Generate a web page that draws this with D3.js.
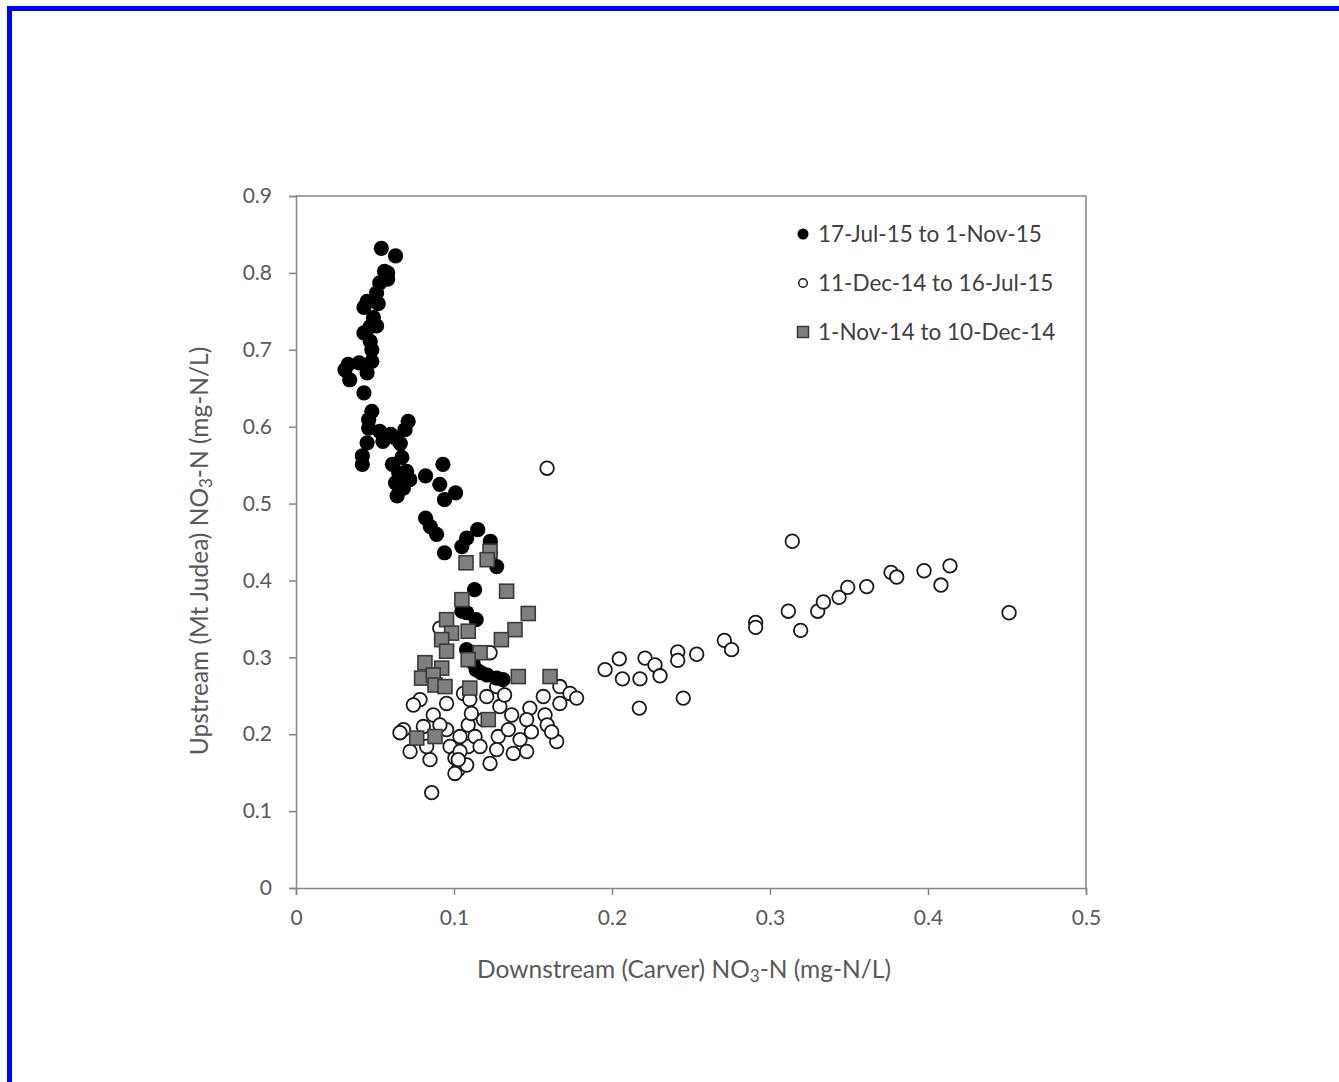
<!DOCTYPE html>
<html>
<head>
<meta charset="utf-8">
<script src="https://cdnjs.cloudflare.com/ajax/libs/d3/7.8.5/d3.min.js"></script>
<style>
  body { margin: 0; background: #fff; }
  text { font-family: Lato, "Noto Sans", sans-serif; }
</style>
</head>
<body>
<div id="chart"></div>
<script>
// 17-Jul-15 to 1-Nov-15 (filled black circles)
const lateSeries = [
  [0.054,0.832],[0.063,0.822],[0.056,0.802],[0.058,0.792],[0.053,0.787],[0.051,0.774],[0.045,0.763],
  [0.043,0.755],[0.049,0.742],[0.051,0.731],[0.043,0.722],[0.047,0.711],[0.033,0.681],[0.031,0.674],
  [0.034,0.661],[0.040,0.683],[0.048,0.685],[0.045,0.670],[0.043,0.644],[0.048,0.620],[0.046,0.609],
  [0.071,0.607],[0.069,0.596],[0.053,0.594],[0.063,0.585],[0.045,0.579],[0.055,0.581],[0.060,0.590],
  [0.066,0.578],[0.042,0.562],[0.042,0.551],[0.061,0.551],[0.065,0.540],[0.070,0.542],[0.063,0.527],
  [0.064,0.510],[0.072,0.531],[0.082,0.536],[0.093,0.551],[0.091,0.525],[0.101,0.514],[0.094,0.505],
  [0.082,0.481],[0.085,0.470],[0.089,0.460],[0.094,0.436],[0.105,0.444],[0.108,0.455],[0.115,0.466],
  [0.123,0.451],[0.123,0.436],[0.127,0.418],[0.113,0.388],[0.108,0.358],[0.114,0.349],[0.105,0.360],
  [0.108,0.310],[0.110,0.301],[0.114,0.284],[0.121,0.277],[0.127,0.273],[0.131,0.271],[0.058,0.800],
  [0.052,0.760],[0.047,0.730],[0.048,0.700],[0.046,0.598],[0.067,0.560],[0.068,0.520],[0.112,0.293],
  [0.117,0.280]
];

// 11-Dec-14 to 16-Jul-15 (open circles)
const midSeries = [
  [0.0859,0.124],[0.0785,0.245],[0.0953,0.240],[0.0869,0.225],[0.068,0.206],[0.0722,0.1775],[0.0806,0.210],
  [0.0848,0.167],[0.0827,0.184],[0.0953,0.206],[0.0975,0.184],[0.1006,0.169],[0.1027,0.154],[0.108,0.160],
  [0.109,0.184],[0.1038,0.1775],[0.109,0.212],[0.106,0.253],[0.110,0.245],[0.1133,0.197],[0.1165,0.184],
  [0.1207,0.249],[0.1186,0.219],[0.1228,0.162],[0.128,0.197],[0.127,0.180],[0.129,0.236],[0.127,0.262],
  [0.132,0.251],[0.1344,0.206],[0.1365,0.225],[0.1375,0.175],[0.1418,0.193],[0.148,0.234],[0.149,0.203],
  [0.146,0.1775],[0.1576,0.225],[0.1565,0.249],[0.159,0.212],[0.165,0.1905],[0.1618,0.203],[0.167,0.262],
  [0.167,0.240],[0.1734,0.253],[0.1776,0.247],[0.0743,0.238],[0.1038,0.197],[0.0911,0.212],[0.1027,0.167],
  [0.111,0.227],[0.146,0.219],[0.1006,0.149],[0.091,0.338],[0.1228,0.306],[0.0658,0.202],[0.1589,0.546],
  [0.1956,0.284],[0.2046,0.298],[0.2066,0.272],[0.2177,0.272],[0.2173,0.234],[0.2209,0.299],[0.2272,0.290],
  [0.2304,0.276],[0.2416,0.307],[0.2416,0.296],[0.2451,0.247],[0.2536,0.304],[0.2711,0.322],[0.2757,0.310],
  [0.2909,0.3455],[0.2909,0.339],[0.3141,0.451],[0.3116,0.360],[0.3194,0.335],[0.3302,0.360],[0.3338,0.372],
  [0.3437,0.378],[0.3492,0.391],[0.3612,0.392],[0.3766,0.4105],[0.3802,0.4044],[0.3975,0.4126],[0.4082,0.394],
  [0.4139,0.419],[0.4513,0.358]
];

// 1-Nov-14 to 10-Dec-14 (grey squares)
const earlySeries = [
  [0.1076,0.423],[0.1228,0.438],[0.121,0.427],[0.1333,0.386],[0.105,0.375],[0.0953,0.349],[0.147,0.357],
  [0.1386,0.336],[0.130,0.323],[0.0985,0.3315],[0.109,0.334],[0.0922,0.323],[0.0953,0.308],[0.1165,0.306],
  [0.109,0.297],[0.0816,0.293],[0.0922,0.286],[0.0795,0.273],[0.0869,0.277],[0.088,0.264],[0.0943,0.262],
  [0.110,0.260],[0.1407,0.275],[0.1608,0.275],[0.1217,0.219],[0.0764,0.195],[0.088,0.197]
];

const legendLabels = ["17-Jul-15 to 1-Nov-15", "11-Dec-14 to 16-Jul-15", "1-Nov-14 to 10-Dec-14"];
const xTicks = [0, 0.1, 0.2, 0.3, 0.4, 0.5];
const yTicks = [0, 0.1, 0.2, 0.3, 0.4, 0.5, 0.6, 0.7, 0.8, 0.9];

const W = 1339, H = 1082;
const margin = { top: 196, right: 253, bottom: 194, left: 296 },
      width = W - margin.left - margin.right,
      height = H - margin.top - margin.bottom;

const root = d3.select("#chart").append("svg")
  .attr("width", W)
  .attr("height", H);

// blue frame
root.append("rect")
  .attr("x", 9.5).attr("y", 8.5)
  .attr("width", W + 20).attr("height", H + 20)
  .attr("fill", "none")
  .attr("stroke", "#0000ff")
  .attr("stroke-width", 5);

const svg = root.append("g")
  .attr("transform", `translate(${margin.left},${margin.top})`);

const x = d3.scaleLinear().domain([0, 0.5]).range([0, width]);
const y = d3.scaleLinear().domain([0, 0.9]).range([height, 0]);

const axisColor = "#868686", labelColor = "#595959";

// plot frame (top & right)
svg.append("path")
  .attr("d", `M0,0H${width}V${height}`)
  .attr("fill", "none")
  .attr("stroke", axisColor)
  .attr("stroke-width", 1.5);

const xAxis = svg.append("g")
  .attr("transform", `translate(0,${height})`)
  .call(d3.axisBottom(x).tickValues(xTicks).tickSize(7).tickPadding(15)
    .tickFormat(d => d === 0 ? "0" : d3.format(".1f")(d)));
const yAxis = svg.append("g")
  .call(d3.axisLeft(y).tickValues(yTicks).tickSize(7).tickPadding(17)
    .tickFormat(d => d === 0 ? "0" : d3.format(".1f")(d)));

[xAxis, yAxis].forEach(a => {
  a.select(".domain").attr("stroke", axisColor).attr("stroke-width", 1.5);
  a.selectAll(".tick line").attr("stroke", axisColor).attr("stroke-width", 1.5);
  a.selectAll(".tick text").attr("fill", labelColor).style("font-size", "21px")
    .style("font-family", "Lato, 'Noto Sans', sans-serif");
});

// open circles
svg.append("g").selectAll("circle")
  .data(midSeries)
  .join("circle")
  .attr("cx", d => x(d[0]))
  .attr("cy", d => y(d[1]))
  .attr("r", 6.8)
  .attr("fill", "#fff")
  .attr("stroke", "#1a1a1a")
  .attr("stroke-width", 1.8);

// filled black circles
svg.append("g").selectAll("circle")
  .data(lateSeries)
  .join("circle")
  .attr("cx", d => x(d[0]))
  .attr("cy", d => y(d[1]))
  .attr("r", 7.6)
  .attr("fill", "#000");

// grey squares
const sq = 14;
svg.append("g").selectAll("rect")
  .data(earlySeries)
  .join("rect")
  .attr("x", d => x(d[0]) - sq / 2)
  .attr("y", d => y(d[1]) - sq / 2)
  .attr("width", sq)
  .attr("height", sq)
  .attr("fill", "#7f7f7f")
  .attr("stroke", "#3a3a3a")
  .attr("stroke-width", 1.6);

// legend
const legend = svg.append("g").attr("transform", `translate(${803 - margin.left},${234 - margin.top})`);
const rowGap = 49;
legend.append("circle").attr("cx", 0).attr("cy", 0).attr("r", 5.5).attr("fill", "#000");
legend.append("circle").attr("cx", 0).attr("cy", rowGap).attr("r", 4.3)
  .attr("fill", "#fff").attr("stroke", "#1a1a1a").attr("stroke-width", 1.5);
legend.append("rect").attr("x", -5.5).attr("y", 2 * rowGap - 5.5).attr("width", 11).attr("height", 11)
  .attr("fill", "#7f7f7f").attr("stroke", "#3a3a3a").attr("stroke-width", 1.5);
legend.selectAll("text.lg")
  .data(legendLabels)
  .join("text")
  .attr("class", "lg")
  .attr("x", 15)
  .attr("y", (d, i) => i * rowGap)
  .attr("dy", "0.35em")
  .attr("fill", "#404040")
  .style("font-size", "22.5px")
  .text(d => d);

// axis titles
const xt = root.append("text")
  .attr("x", margin.left + width / 2 - 7)
  .attr("y", 978)
  .attr("text-anchor", "middle")
  .attr("fill", labelColor)
  .style("font-size", "24.5px");
xt.append("tspan").text("Downstream (Carver) NO");
xt.append("tspan").text("3").attr("baseline-shift", "-25%").style("font-size", "17px");
xt.append("tspan").text("-N (mg-N/L)");

const yt = root.append("text")
  .attr("transform", `translate(208,${margin.top + height / 2 + 9}) rotate(-90)`)
  .attr("text-anchor", "middle")
  .attr("fill", labelColor)
  .style("font-size", "24.5px");
yt.append("tspan").text("Upstream (Mt Judea) NO");
yt.append("tspan").text("3").attr("baseline-shift", "-25%").style("font-size", "17px");
yt.append("tspan").text("-N (mg-N/L)");
</script>
</body>
</html>
